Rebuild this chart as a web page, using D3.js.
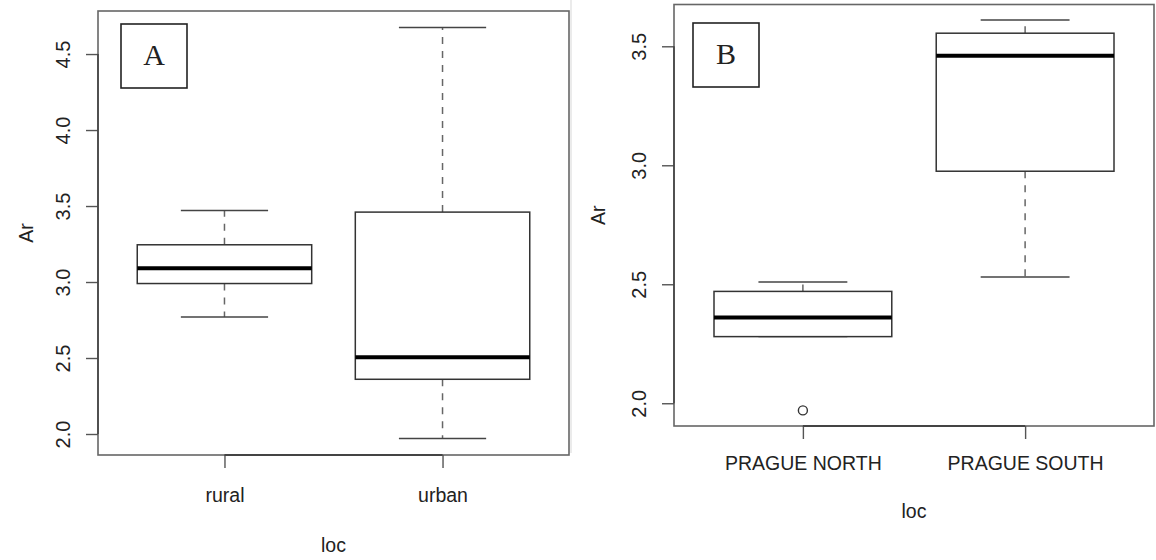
<!DOCTYPE html>
<html>
<head>
<meta charset="utf-8">
<script src="https://cdn.jsdelivr.net/npm/d3@7"></script>
<style>
  body { margin: 0; background: #fff; }
  svg text { font-family: "Liberation Sans", Arial, sans-serif; fill: #222; }
</style>
</head>
<body>
<svg id="chart" width="1156" height="560"></svg>
<script>
// panel A
var catsA = ["rural", "urban"];
var lowA = [2.77, 1.97];
var q1A = [2.99, 2.36];
var medA = [3.09, 2.505];
var q3A = [3.245, 3.46];
var highA = [3.47, 4.675];
var outA = [[], []];
var ticksA = [2.0, 2.5, 3.0, 3.5, 4.0, 4.5];

// panel B
var catsB = ["PRAGUE NORTH", "PRAGUE SOUTH"];
var lowB = [2.28, 2.53];
var q1B = [2.28, 2.975];
var medB = [2.36, 3.46];
var q3B = [2.47, 3.555];
var highB = [2.51, 3.61];
var outB = [[1.97], []];
var ticksB = [2.0, 2.5, 3.0, 3.5];

var svg = d3.select("#chart");

// faint seam between the two pictures
svg.append("line").attr("x1", 571).attr("x2", 571).attr("y1", 0).attr("y2", 453)
  .attr("stroke", "#e4e4e4").attr("stroke-width", 1.5);

var panels = [
  { tag: "A", cats: catsA, low: lowA, q1: q1A, med: medA, q3: q3A, high: highA, out: outA, ticks: ticksA,
    l: 98, t: 11, r: 569, b: 455, box: [121, 24, 66, 64], catDy: 47, locDy: 97, arX: 33 },
  { tag: "B", cats: catsB, low: lowB, q1: q1B, med: medB, q3: q3B, high: highB, out: outB, ticks: ticksB,
    l: 674, t: 4.5, r: 1154, b: 426, box: [693, 23, 66, 64], catDy: 44, locDy: 92, arX: 605 }
];

panels.forEach(function (p) {
  var g = svg.append("g");
  var n = p.cats.length;

  // R style limits: data range + 4% each side
  var all = p.low.concat(p.high, d3.merge(p.out));
  var lo = d3.min(all), hi = d3.max(all), pad = (hi - lo) * 0.04;
  var y = d3.scaleLinear().domain([lo - pad, hi + pad]).range([p.b, p.t]);
  var xpad = n * 0.04;
  var x = d3.scaleLinear().domain([0.5 - xpad, n + 0.5 + xpad]).range([p.l, p.r]);

  // frame
  g.append("rect").attr("x", p.l).attr("y", p.t).attr("width", p.r - p.l).attr("height", p.b - p.t)
    .attr("fill", "none").attr("stroke", "#666").attr("stroke-width", 1.6);

  // y axis
  var ya = g.append("g").attr("transform", "translate(" + p.l + ",0)")
    .call(d3.axisLeft(y).tickValues(p.ticks).tickSize(12).tickFormat(d3.format(".1f")));
  ya.select(".domain").remove();
  ya.selectAll(".tick line").attr("stroke", "#555").attr("stroke-width", 1.4);
  ya.selectAll(".tick text").attr("x", 0).attr("y", -28).attr("dy", 0)
    .attr("transform", "rotate(-90)").attr("text-anchor", "middle")
    .style("font-size", "20px").attr("fill", "#222");
  g.append("line").attr("x1", p.l).attr("x2", p.l)
    .attr("y1", y(d3.min(p.ticks))).attr("y2", y(d3.max(p.ticks)))
    .attr("stroke", "#444").attr("stroke-width", 1.6);

  // x axis
  var idx = d3.range(1, n + 1);
  var xa = g.append("g").attr("transform", "translate(0," + p.b + ")")
    .call(d3.axisBottom(x).tickValues(idx).tickSize(13).tickFormat(function (d) { return p.cats[d - 1]; }));
  xa.select(".domain").remove();
  xa.selectAll(".tick line").attr("stroke", "#555").attr("stroke-width", 1.4);
  xa.selectAll(".tick text").attr("y", p.catDy).attr("dy", 0)
    .style("font-size", "19.5px").attr("fill", "#222");
  g.append("line").attr("x1", x(1)).attr("x2", x(n)).attr("y1", p.b).attr("y2", p.b)
    .attr("stroke", "#444").attr("stroke-width", 1.8);

  // axis titles
  g.append("text").attr("x", (p.l + p.r) / 2).attr("y", p.b + p.locDy)
    .attr("text-anchor", "middle").style("font-size", "19.5px").text("loc");
  g.append("text").attr("transform", "translate(" + p.arX + "," + ((p.t + p.b) / 2) + ") rotate(-90)")
    .attr("text-anchor", "middle").style("font-size", "19.5px").text("Ar");

  // boxes
  var bw = 0.4, cw = 0.2;
  idx.forEach(function (k) {
    var i = k - 1, cx = x(k);
    var bg = g.append("g");
    // whiskers
    bg.append("line").attr("x1", cx).attr("x2", cx).attr("y1", y(p.q3[i])).attr("y2", y(p.high[i]))
      .attr("stroke", "#666").attr("stroke-width", 1.5).attr("stroke-dasharray", "7,7");
    bg.append("line").attr("x1", cx).attr("x2", cx).attr("y1", y(p.q1[i])).attr("y2", y(p.low[i]))
      .attr("stroke", "#666").attr("stroke-width", 1.5).attr("stroke-dasharray", "7,7");
    [p.low[i], p.high[i]].forEach(function (v) {
      bg.append("line").attr("x1", x(k - cw)).attr("x2", x(k + cw)).attr("y1", y(v)).attr("y2", y(v))
        .attr("stroke", "#444").attr("stroke-width", 1.5);
    });
    bg.append("rect").attr("x", x(k - bw)).attr("y", y(p.q3[i]))
      .attr("width", x(k + bw) - x(k - bw)).attr("height", y(p.q1[i]) - y(p.q3[i]))
      .attr("fill", "#fff").attr("stroke", "#333").attr("stroke-width", 1.5);
    bg.append("line").attr("x1", x(k - bw)).attr("x2", x(k + bw)).attr("y1", y(p.med[i])).attr("y2", y(p.med[i]))
      .attr("stroke", "#000").attr("stroke-width", 4);
    p.out[i].forEach(function (v) {
      bg.append("circle").attr("cx", cx).attr("cy", y(v)).attr("r", 4.5)
        .attr("fill", "none").attr("stroke", "#333").attr("stroke-width", 1.4);
    });
  });

  // panel tag
  g.append("rect").attr("x", p.box[0]).attr("y", p.box[1]).attr("width", p.box[2]).attr("height", p.box[3])
    .attr("fill", "#fff").attr("stroke", "#222").attr("stroke-width", 1.6);
  g.append("text").attr("x", p.box[0] + p.box[2] / 2).attr("y", p.box[1] + 41)
    .attr("text-anchor", "middle").style("font-family", "'Liberation Serif', 'Times New Roman', serif")
    .style("font-size", "30px").attr("fill", "#000").text(p.tag);
});
</script>
</body>
</html>
